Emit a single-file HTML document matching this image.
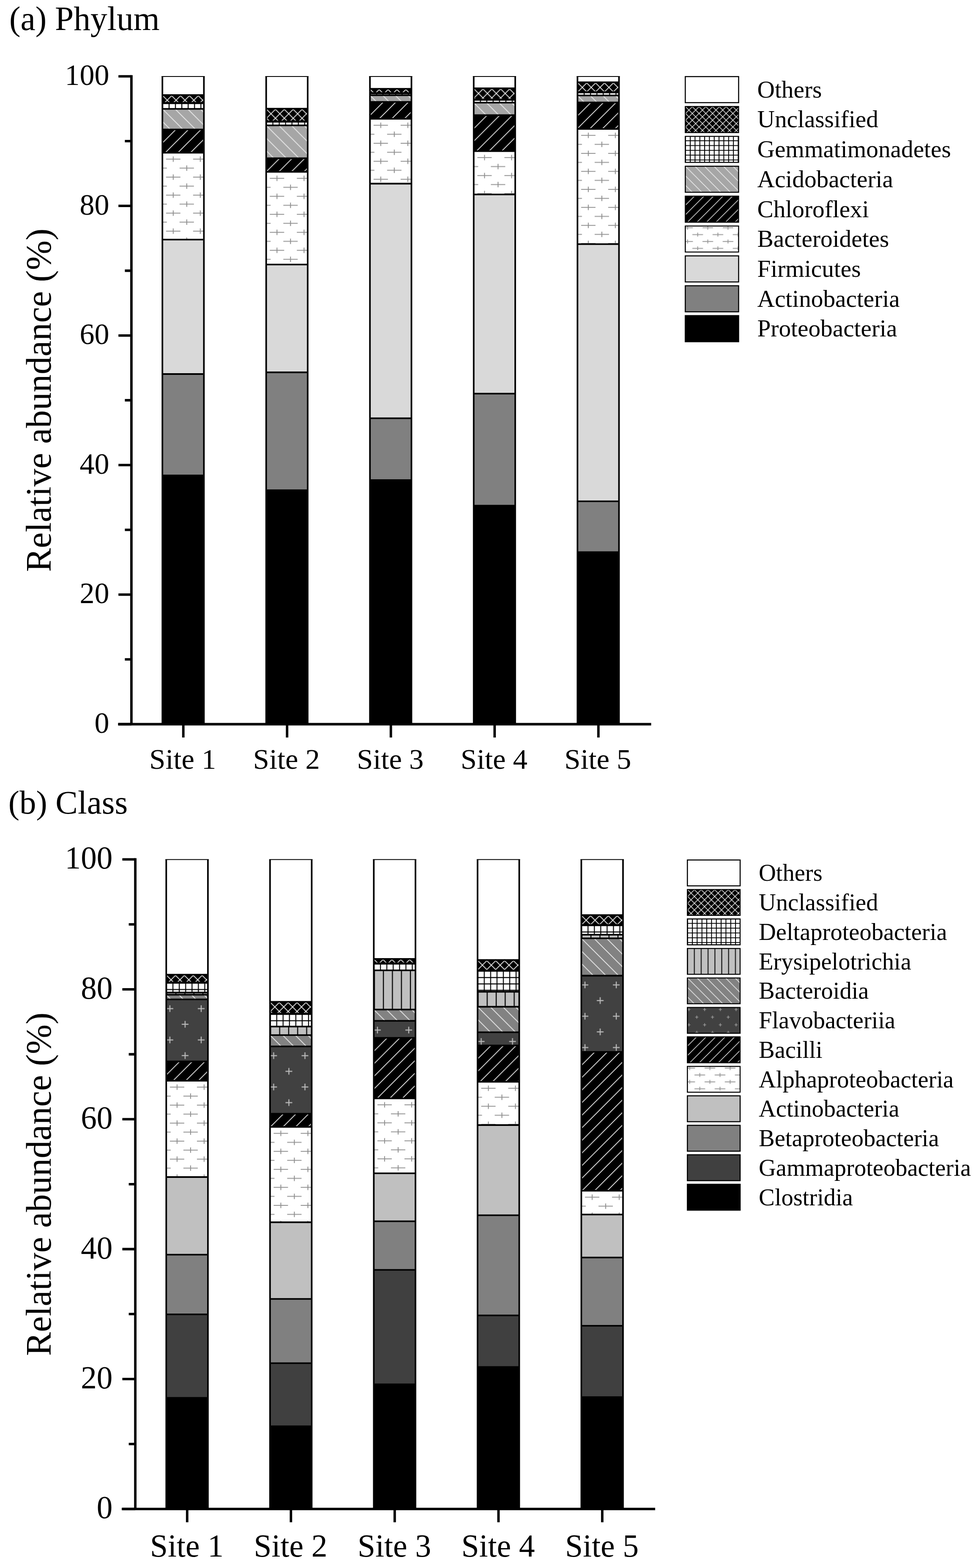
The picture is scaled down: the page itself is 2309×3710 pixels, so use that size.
<!DOCTYPE html>
<html lang="en">
<head>
<meta charset="utf-8">
<title>Relative abundance of bacterial phyla and classes</title>
<style>
html,body{margin:0;padding:0;background:#fff}
body{width:2309px;height:3710px;overflow:hidden}
svg.fig{display:block}
svg.fig text{font-family:"Liberation Serif", "DejaVu Serif", serif;fill:#000}
</style>
</head>
<body>
<svg class="fig" width="2309" height="3710" viewBox="0 0 2309 3710">
<defs>
<pattern id="xh" patternUnits="userSpaceOnUse" x="2.80" y="3.50" width="21.00" height="21.00"><rect width="21.00" height="21.00" fill="#000"/><path d="M-21.00 -21.00L42.00 42.00M42.00 -21.00L-21.00 42.00" stroke="#ececec" stroke-width="1.90" fill="none"/></pattern>
<pattern id="gr" patternUnits="userSpaceOnUse" x="2.70" y="3.60" width="15.05" height="15.05"><rect width="15.05" height="15.05" fill="#fff"/><path d="M-15.05 0H30.10M0 -15.05V30.10M-15.05 15.05H30.10M15.05 -15.05V30.10" stroke="#000" stroke-width="2.30" fill="none"/></pattern>
<pattern id="ac" patternUnits="userSpaceOnUse" x="0.00" y="0.00" width="29.80" height="29.80"><rect width="29.80" height="29.80" fill="#a6a6a6"/><path d="M-29.80 -29.80L59.60 59.60M0 -29.80L59.60 29.80M-29.80 0L29.80 59.60" stroke="#ececec" stroke-width="1.90" fill="none"/></pattern>
<pattern id="bd" patternUnits="userSpaceOnUse" x="0.00" y="0.00" width="29.80" height="29.80"><rect width="29.80" height="29.80" fill="#828282"/><path d="M-29.80 -29.80L59.60 59.60M0 -29.80L59.60 29.80M-29.80 0L29.80 59.60" stroke="#ececec" stroke-width="1.90" fill="none"/></pattern>
<pattern id="ch" patternUnits="userSpaceOnUse" x="6.00" y="0.00" width="29.80" height="29.80"><rect width="29.80" height="29.80" fill="#000"/><path d="M-29.80 29.80L29.80 -29.80M-29.80 59.60L59.60 -29.80M0 59.60L59.60 0" stroke="#ececec" stroke-width="1.90" fill="none"/></pattern>
<pattern id="pl" patternUnits="userSpaceOnUse" x="27.50" y="17.10" width="64.00" height="42.60"><rect width="64.00" height="42.60" fill="#fff"/><path d="M-81.00 -42.60H-47.00M-64.00 -49.00V-36.20M-49.00 -21.30H-15.00M-32.00 -27.70V-14.90M-81.00 0.00H-47.00M-64.00 -6.40V6.40M-49.00 21.30H-15.00M-32.00 14.90V27.70M-81.00 42.60H-47.00M-64.00 36.20V49.00M-49.00 63.90H-15.00M-32.00 57.50V70.30M-17.00 -42.60H17.00M0.00 -49.00V-36.20M15.00 -21.30H49.00M32.00 -27.70V-14.90M-17.00 0.00H17.00M0.00 -6.40V6.40M15.00 21.30H49.00M32.00 14.90V27.70M-17.00 42.60H17.00M0.00 36.20V49.00M15.00 63.90H49.00M32.00 57.50V70.30M47.00 -42.60H81.00M64.00 -49.00V-36.20M79.00 -21.30H113.00M96.00 -27.70V-14.90M47.00 0.00H81.00M64.00 -6.40V6.40M79.00 21.30H113.00M96.00 14.90V27.70M47.00 42.60H81.00M64.00 36.20V49.00M79.00 63.90H113.00M96.00 57.50V70.30" stroke="#909090" stroke-width="2.10" fill="none"/></pattern>
<pattern id="fl" patternUnits="userSpaceOnUse" x="10.50" y="23.80" width="74.07" height="74.07"><rect width="74.07" height="74.07" fill="#414141"/><path d="M-82.07 -74.07H-66.07M-74.07 -82.07V-66.07M-46.03 -37.03H-30.03M-38.03 -45.03V-29.03M-82.07 0.00H-66.07M-74.07 -8.00V8.00M-46.03 37.03H-30.03M-38.03 29.03V45.03M-82.07 74.07H-66.07M-74.07 66.07V82.07M-46.03 111.10H-30.03M-38.03 103.10V119.10M-8.00 -74.07H8.00M0.00 -82.07V-66.07M28.03 -37.03H44.03M36.03 -45.03V-29.03M-8.00 0.00H8.00M0.00 -8.00V8.00M28.03 37.03H44.03M36.03 29.03V45.03M-8.00 74.07H8.00M0.00 66.07V82.07M28.03 111.10H44.03M36.03 103.10V119.10M66.07 -74.07H82.07M74.07 -82.07V-66.07M102.10 -37.03H118.10M110.10 -45.03V-29.03M66.07 0.00H82.07M74.07 -8.00V8.00M102.10 37.03H118.10M110.10 29.03V45.03M66.07 74.07H82.07M74.07 66.07V82.07M102.10 111.10H118.10M110.10 103.10V119.10" stroke="#b9b9b9" stroke-width="2.40" fill="none"/></pattern>
<pattern id="vl" patternUnits="userSpaceOnUse" x="-7.25" y="0.00" width="21.30" height="21.30"><rect width="21.30" height="21.30" fill="#c0c0c0"/><path d="M10.65 -21.30V42.60" stroke="#000" stroke-width="2.40" fill="none"/></pattern>
<pattern id="xhL" patternUnits="userSpaceOnUse" x="2.00" y="1.90" width="16.00" height="16.00"><rect width="16.00" height="16.00" fill="#000"/><path d="M-16.00 -16.00L32.00 32.00M32.00 -16.00L-16.00 32.00" stroke="#f2f2f2" stroke-width="1.50" fill="none"/></pattern>
<pattern id="grL" patternUnits="userSpaceOnUse" x="1.80" y="0.50" width="11.35" height="11.35"><rect width="11.35" height="11.35" fill="#fff"/><path d="M-11.35 0H22.70M0 -11.35V22.70M-11.35 11.35H22.70M11.35 -11.35V22.70" stroke="#000" stroke-width="2.10" fill="none"/></pattern>
<pattern id="acL" patternUnits="userSpaceOnUse" x="0.20" y="0.00" width="22.50" height="22.50"><rect width="22.50" height="22.50" fill="#a6a6a6"/><path d="M-22.50 -22.50L45.00 45.00M0 -22.50L45.00 22.50M-22.50 0L22.50 45.00" stroke="#f4f4f4" stroke-width="1.50" fill="none"/></pattern>
<pattern id="bdL" patternUnits="userSpaceOnUse" x="0.20" y="0.00" width="22.50" height="22.50"><rect width="22.50" height="22.50" fill="#828282"/><path d="M-22.50 -22.50L45.00 45.00M0 -22.50L45.00 22.50M-22.50 0L22.50 45.00" stroke="#f4f4f4" stroke-width="1.50" fill="none"/></pattern>
<pattern id="chL" patternUnits="userSpaceOnUse" x="2.20" y="0.00" width="22.50" height="22.50"><rect width="22.50" height="22.50" fill="#000"/><path d="M-22.50 22.50L22.50 -22.50M-22.50 45.00L45.00 -22.50M0 45.00L45.00 0" stroke="#f4f4f4" stroke-width="1.50" fill="none"/></pattern>
<pattern id="plL" patternUnits="userSpaceOnUse" x="6.90" y="5.50" width="47.80" height="32.60"><rect width="47.80" height="32.60" fill="#fff"/><path d="M-60.40 -32.60H-35.20M-47.80 -37.20V-28.00M-36.50 -16.30H-11.30M-23.90 -20.90V-11.70M-60.40 0.00H-35.20M-47.80 -4.60V4.60M-36.50 16.30H-11.30M-23.90 11.70V20.90M-60.40 32.60H-35.20M-47.80 28.00V37.20M-36.50 48.90H-11.30M-23.90 44.30V53.50M-12.60 -32.60H12.60M0.00 -37.20V-28.00M11.30 -16.30H36.50M23.90 -20.90V-11.70M-12.60 0.00H12.60M0.00 -4.60V4.60M11.30 16.30H36.50M23.90 11.70V20.90M-12.60 32.60H12.60M0.00 28.00V37.20M11.30 48.90H36.50M23.90 44.30V53.50M35.20 -32.60H60.40M47.80 -37.20V-28.00M59.10 -16.30H84.30M71.70 -20.90V-11.70M35.20 0.00H60.40M47.80 -4.60V4.60M59.10 16.30H84.30M71.70 11.70V20.90M35.20 32.60H60.40M47.80 28.00V37.20M59.10 48.90H84.30M71.70 44.30V53.50" stroke="#969696" stroke-width="1.90" fill="none"/></pattern>
<pattern id="flL" patternUnits="userSpaceOnUse" x="5.00" y="6.30" width="37.20" height="36.30"><rect width="37.20" height="36.30" fill="#414141"/><path d="M-40.80 -36.30H-33.60M-37.20 -39.90V-32.70M-22.20 -18.15H-15.00M-18.60 -21.75V-14.55M-40.80 0.00H-33.60M-37.20 -3.60V3.60M-22.20 18.15H-15.00M-18.60 14.55V21.75M-40.80 36.30H-33.60M-37.20 32.70V39.90M-22.20 54.45H-15.00M-18.60 50.85V58.05M-3.60 -36.30H3.60M0.00 -39.90V-32.70M15.00 -18.15H22.20M18.60 -21.75V-14.55M-3.60 0.00H3.60M0.00 -3.60V3.60M15.00 18.15H22.20M18.60 14.55V21.75M-3.60 36.30H3.60M0.00 32.70V39.90M15.00 54.45H22.20M18.60 50.85V58.05M33.60 -36.30H40.80M37.20 -39.90V-32.70M52.20 -18.15H59.40M55.80 -21.75V-14.55M33.60 0.00H40.80M37.20 -3.60V3.60M52.20 18.15H59.40M55.80 14.55V21.75M33.60 36.30H40.80M37.20 32.70V39.90M52.20 54.45H59.40M55.80 50.85V58.05" stroke="#9a9a9a" stroke-width="1.70" fill="none"/></pattern>
<pattern id="vlL" patternUnits="userSpaceOnUse" x="9.80" y="0.00" width="16.20" height="16.20"><rect width="16.20" height="16.20" fill="#c0c0c0"/><path d="M8.10 -16.20V32.40" stroke="#000" stroke-width="2.00" fill="none"/></pattern>
</defs>
<g>
<rect width="2309" height="3710" fill="#fff"/>
<g>
<text x="22.0" y="71.0" font-size="79.5">(a) Phylum</text>
<rect x="384.2" y="1124.8" width="98.2" height="588.7" fill="#000"/>
<rect x="384.2" y="885.0" width="98.2" height="239.8" fill="#808080"/>
<rect x="384.2" y="566.9" width="98.2" height="318.1" fill="#d9d9d9"/>
<svg x="382.3" y="359.4" width="102.0" height="209.4"><rect x="1.9" y="1.9" width="98.2" height="205.6" fill="url(#pl)"/></svg>
<svg x="382.3" y="304.4" width="102.0" height="58.8"><rect x="1.9" y="1.9" width="98.2" height="55.0" fill="url(#ch)"/></svg>
<svg x="382.3" y="255.7" width="102.0" height="52.5"><rect x="1.9" y="1.9" width="98.2" height="48.7" fill="url(#ac)"/></svg>
<svg x="382.3" y="241.4" width="102.0" height="18.1"><rect x="1.9" y="1.9" width="98.2" height="14.3" fill="url(#gr)"/></svg>
<svg x="382.3" y="223.0" width="102.0" height="22.2"><rect x="1.9" y="1.9" width="98.2" height="18.4" fill="url(#xh)"/></svg>
<rect x="384.2" y="181.0" width="98.2" height="43.9" fill="#fff"/>
<path d="M382.3 181.0H484.3" stroke="#000" stroke-width="2.0" fill="none"/>
<rect x="629.7" y="1159.8" width="98.2" height="553.7" fill="#000"/>
<rect x="629.7" y="881.0" width="98.2" height="278.8" fill="#808080"/>
<rect x="629.7" y="625.9" width="98.2" height="255.1" fill="#d9d9d9"/>
<svg x="627.8" y="404.8" width="102.0" height="223.0"><rect x="1.9" y="1.9" width="98.2" height="219.2" fill="url(#pl)"/></svg>
<svg x="627.8" y="372.6" width="102.0" height="36.0"><rect x="1.9" y="1.9" width="98.2" height="32.2" fill="url(#ch)"/></svg>
<svg x="627.8" y="294.8" width="102.0" height="81.6"><rect x="1.9" y="1.9" width="98.2" height="77.8" fill="url(#ac)"/></svg>
<svg x="627.8" y="285.2" width="102.0" height="13.4"><rect x="1.9" y="1.9" width="98.2" height="9.6" fill="url(#gr)"/></svg>
<svg x="627.8" y="255.2" width="102.0" height="33.8"><rect x="1.9" y="1.9" width="98.2" height="30.0" fill="url(#xh)"/></svg>
<rect x="629.7" y="181.0" width="98.2" height="76.1" fill="#fff"/>
<path d="M627.8 181.0H729.8" stroke="#000" stroke-width="2.0" fill="none"/>
<rect x="875.2" y="1135.9" width="98.2" height="577.6" fill="#000"/>
<rect x="875.2" y="989.7" width="98.2" height="146.2" fill="#808080"/>
<rect x="875.2" y="434.5" width="98.2" height="555.2" fill="#d9d9d9"/>
<svg x="873.3" y="279.3" width="102.0" height="157.1"><rect x="1.9" y="1.9" width="98.2" height="153.3" fill="url(#pl)"/></svg>
<svg x="873.3" y="239.2" width="102.0" height="43.9"><rect x="1.9" y="1.9" width="98.2" height="40.1" fill="url(#ch)"/></svg>
<svg x="873.3" y="223.4" width="102.0" height="19.6"><rect x="1.9" y="1.9" width="98.2" height="15.8" fill="url(#ac)"/></svg>
<svg x="873.3" y="218.2" width="102.0" height="9.0"><rect x="1.9" y="1.9" width="98.2" height="5.2" fill="url(#gr)"/></svg>
<svg x="873.3" y="208.3" width="102.0" height="13.7"><rect x="1.9" y="1.9" width="98.2" height="9.9" fill="url(#xh)"/></svg>
<rect x="875.2" y="181.0" width="98.2" height="29.2" fill="#fff"/>
<path d="M873.3 181.0H975.3" stroke="#000" stroke-width="2.0" fill="none"/>
<rect x="1120.7" y="1196.3" width="98.2" height="517.2" fill="#000"/>
<rect x="1120.7" y="931.3" width="98.2" height="265.0" fill="#808080"/>
<rect x="1120.7" y="460.1" width="98.2" height="471.2" fill="#d9d9d9"/>
<svg x="1118.8" y="355.7" width="102.0" height="106.3"><rect x="1.9" y="1.9" width="98.2" height="102.5" fill="url(#pl)"/></svg>
<svg x="1118.8" y="270.6" width="102.0" height="88.9"><rect x="1.9" y="1.9" width="98.2" height="85.1" fill="url(#ch)"/></svg>
<svg x="1118.8" y="240.9" width="102.0" height="33.5"><rect x="1.9" y="1.9" width="98.2" height="29.7" fill="url(#ac)"/></svg>
<svg x="1118.8" y="233.4" width="102.0" height="11.3"><rect x="1.9" y="1.9" width="98.2" height="7.5" fill="url(#gr)"/></svg>
<svg x="1118.8" y="207.1" width="102.0" height="30.1"><rect x="1.9" y="1.9" width="98.2" height="26.3" fill="url(#xh)"/></svg>
<rect x="1120.7" y="181.0" width="98.2" height="28.0" fill="#fff"/>
<path d="M1118.8 181.0H1220.8" stroke="#000" stroke-width="2.0" fill="none"/>
<rect x="1366.2" y="1306.3" width="98.2" height="407.2" fill="#000"/>
<rect x="1366.2" y="1186.2" width="98.2" height="120.1" fill="#808080"/>
<rect x="1366.2" y="577.7" width="98.2" height="608.5" fill="#d9d9d9"/>
<svg x="1364.3" y="303.2" width="102.0" height="276.4"><rect x="1.9" y="1.9" width="98.2" height="272.6" fill="url(#pl)"/></svg>
<svg x="1364.3" y="240.4" width="102.0" height="66.6"><rect x="1.9" y="1.9" width="98.2" height="62.8" fill="url(#ch)"/></svg>
<svg x="1364.3" y="223.9" width="102.0" height="20.3"><rect x="1.9" y="1.9" width="98.2" height="16.5" fill="url(#ac)"/></svg>
<svg x="1364.3" y="215.9" width="102.0" height="11.8"><rect x="1.9" y="1.9" width="98.2" height="8.0" fill="url(#gr)"/></svg>
<svg x="1364.3" y="192.8" width="102.0" height="27.0"><rect x="1.9" y="1.9" width="98.2" height="23.2" fill="url(#xh)"/></svg>
<rect x="1366.2" y="181.0" width="98.2" height="13.7" fill="#fff"/>
<path d="M1364.3 181.0H1466.3" stroke="#000" stroke-width="2.0" fill="none"/>
<path d="M382.3 1124.8H484.3M382.3 885.0H484.3M382.3 566.9H484.3M382.3 361.3H484.3M382.3 306.3H484.3M382.3 257.6H484.3M382.3 243.3H484.3M382.3 224.9H484.3M384.2 180.4V1713.5M482.4 180.4V1713.5M627.8 1159.8H729.8M627.8 881.0H729.8M627.8 625.9H729.8M627.8 406.7H729.8M627.8 374.5H729.8M627.8 296.7H729.8M627.8 287.1H729.8M627.8 257.1H729.8M629.7 180.4V1713.5M727.9 180.4V1713.5M873.3 1135.9H975.3M873.3 989.7H975.3M873.3 434.5H975.3M873.3 281.2H975.3M873.3 241.1H975.3M873.3 225.3H975.3M873.3 220.1H975.3M873.3 210.2H975.3M875.2 180.4V1713.5M973.4 180.4V1713.5M1118.8 1196.3H1220.8M1118.8 931.3H1220.8M1118.8 460.1H1220.8M1118.8 357.6H1220.8M1118.8 272.5H1220.8M1118.8 242.8H1220.8M1118.8 235.3H1220.8M1118.8 209.0H1220.8M1120.7 180.4V1713.5M1218.9 180.4V1713.5M1364.3 1306.3H1466.3M1364.3 1186.2H1466.3M1364.3 577.7H1466.3M1364.3 305.1H1466.3M1364.3 242.3H1466.3M1364.3 225.8H1466.3M1364.3 217.8H1466.3M1364.3 194.7H1466.3M1366.2 180.4V1713.5M1464.4 180.4V1713.5" stroke="#000" stroke-width="3.8" fill="none"/>
<path d="M310.9 177.7V1716.4M279.3 1713.5H1540.5" stroke="#000" stroke-width="5.8" fill="none"/>
<path d="M280.2 1713.5H310.9M295.4 1560.2H310.9M280.2 1406.9H310.9M295.4 1253.6H310.9M280.2 1100.3H310.9M295.4 947.0H310.9M280.2 793.8H310.9M295.4 640.5H310.9M280.2 487.2H310.9M295.4 333.9H310.9M280.2 180.6H310.9M433.7 1713.5V1745.0M679.2 1713.5V1745.0M924.7 1713.5V1745.0M1170.2 1713.5V1745.0M1415.7 1713.5V1745.0" stroke="#000" stroke-width="5.8" fill="none"/>
<text x="258.4" y="1734.0" font-size="70.0" text-anchor="end">0</text>
<text x="258.4" y="1427.4" font-size="70.0" text-anchor="end">20</text>
<text x="258.4" y="1120.8" font-size="70.0" text-anchor="end">40</text>
<text x="258.4" y="814.3" font-size="70.0" text-anchor="end">60</text>
<text x="258.4" y="507.7" font-size="70.0" text-anchor="end">80</text>
<text x="258.4" y="201.1" font-size="70.0" text-anchor="end">100</text>
<text x="432.3" y="1819.0" font-size="68.5" text-anchor="middle">Site 1</text>
<text x="677.8" y="1819.0" font-size="68.5" text-anchor="middle">Site 2</text>
<text x="923.3" y="1819.0" font-size="68.5" text-anchor="middle">Site 3</text>
<text x="1168.8" y="1819.0" font-size="68.5" text-anchor="middle">Site 4</text>
<text x="1414.3" y="1819.0" font-size="68.5" text-anchor="middle">Site 5</text>
<text transform="translate(119.5 947.0) rotate(-90)" font-size="84.6" text-anchor="middle">Relative abundance (%)</text>
<rect x="1621.2" y="181.2" width="126.2" height="61.7" fill="#fff" stroke="#000" stroke-width="2.5"/>
<text x="1791.5" y="230.7" font-size="57.3">Others</text>
<svg x="1619.8" y="250.5" width="129.0" height="64.5"><rect x="1.4" y="1.4" width="126.2" height="61.7" fill="url(#xhL)" stroke="#000" stroke-width="2.5"/></svg>
<text x="1791.5" y="301.4" font-size="57.3">Unclassified</text>
<svg x="1619.8" y="321.2" width="129.0" height="64.5"><rect x="1.4" y="1.4" width="126.2" height="61.7" fill="url(#grL)" stroke="#000" stroke-width="2.5"/></svg>
<text x="1791.5" y="372.1" font-size="57.3">Gemmatimonadetes</text>
<svg x="1619.8" y="391.9" width="129.0" height="64.5"><rect x="1.4" y="1.4" width="126.2" height="61.7" fill="url(#acL)" stroke="#000" stroke-width="2.5"/></svg>
<text x="1791.5" y="442.8" font-size="57.3">Acidobacteria</text>
<svg x="1619.8" y="462.6" width="129.0" height="64.5"><rect x="1.4" y="1.4" width="126.2" height="61.7" fill="url(#chL)" stroke="#000" stroke-width="2.5"/></svg>
<text x="1791.5" y="513.5" font-size="57.3">Chloroflexi</text>
<svg x="1619.8" y="533.3" width="129.0" height="64.5"><rect x="1.4" y="1.4" width="126.2" height="61.7" fill="url(#plL)" stroke="#000" stroke-width="2.5"/></svg>
<text x="1791.5" y="584.2" font-size="57.3">Bacteroidetes</text>
<rect x="1621.2" y="605.4" width="126.2" height="61.7" fill="#d9d9d9" stroke="#000" stroke-width="2.5"/>
<text x="1791.5" y="654.9" font-size="57.3">Firmicutes</text>
<rect x="1621.2" y="676.1" width="126.2" height="61.7" fill="#808080" stroke="#000" stroke-width="2.5"/>
<text x="1791.5" y="725.6" font-size="57.3">Actinobacteria</text>
<rect x="1621.2" y="746.8" width="126.2" height="61.7" fill="#000" stroke="#000" stroke-width="2.5"/>
<text x="1791.5" y="796.3" font-size="57.3">Proteobacteria</text>
</g>
<g>
<text x="19.8" y="1924.5" font-size="78.8">(b) Class</text>
<rect x="393.3" y="3307.3" width="98.6" height="263.0" fill="#000"/>
<rect x="393.3" y="3109.8" width="98.6" height="197.5" fill="#404040"/>
<rect x="393.3" y="2968.6" width="98.6" height="141.2" fill="#808080"/>
<rect x="393.3" y="2785.0" width="98.6" height="183.6" fill="#c0c0c0"/>
<svg x="391.4" y="2555.1" width="102.4" height="231.8"><rect x="1.9" y="1.9" width="98.6" height="228.0" fill="url(#pl)"/></svg>
<svg x="391.4" y="2509.6" width="102.4" height="49.3"><rect x="1.9" y="1.9" width="98.6" height="45.5" fill="url(#ch)"/></svg>
<svg x="391.4" y="2362.7" width="102.4" height="150.7"><rect x="1.9" y="1.9" width="98.6" height="146.9" fill="url(#fl)"/></svg>
<svg x="391.4" y="2351.8" width="102.4" height="14.7"><rect x="1.9" y="1.9" width="98.6" height="10.9" fill="url(#bd)"/></svg>
<svg x="391.4" y="2346.6" width="102.4" height="9.0"><rect x="1.9" y="1.9" width="98.6" height="5.2" fill="url(#vl)"/></svg>
<svg x="391.4" y="2322.7" width="102.4" height="27.7"><rect x="1.9" y="1.9" width="98.6" height="23.9" fill="url(#gr)"/></svg>
<svg x="391.4" y="2304.3" width="102.4" height="22.2"><rect x="1.9" y="1.9" width="98.6" height="18.4" fill="url(#xh)"/></svg>
<rect x="393.3" y="2033.7" width="98.6" height="272.5" fill="#fff"/>
<path d="M391.4 2033.7H493.8" stroke="#000" stroke-width="2.0" fill="none"/>
<rect x="638.8" y="3374.6" width="98.6" height="195.7" fill="#000"/>
<rect x="638.8" y="3225.3" width="98.6" height="149.3" fill="#404040"/>
<rect x="638.8" y="3073.3" width="98.6" height="152.0" fill="#808080"/>
<rect x="638.8" y="2892.0" width="98.6" height="181.3" fill="#c0c0c0"/>
<svg x="636.9" y="2664.5" width="102.4" height="229.4"><rect x="1.9" y="1.9" width="98.6" height="225.6" fill="url(#pl)"/></svg>
<svg x="636.9" y="2633.3" width="102.4" height="35.0"><rect x="1.9" y="1.9" width="98.6" height="31.2" fill="url(#ch)"/></svg>
<svg x="636.9" y="2474.0" width="102.4" height="163.1"><rect x="1.9" y="1.9" width="98.6" height="159.3" fill="url(#fl)"/></svg>
<svg x="636.9" y="2447.3" width="102.4" height="30.5"><rect x="1.9" y="1.9" width="98.6" height="26.7" fill="url(#bd)"/></svg>
<svg x="636.9" y="2426.9" width="102.4" height="24.2"><rect x="1.9" y="1.9" width="98.6" height="20.4" fill="url(#vl)"/></svg>
<svg x="636.9" y="2396.5" width="102.4" height="34.2"><rect x="1.9" y="1.9" width="98.6" height="30.4" fill="url(#gr)"/></svg>
<svg x="636.9" y="2368.5" width="102.4" height="31.8"><rect x="1.9" y="1.9" width="98.6" height="28.0" fill="url(#xh)"/></svg>
<rect x="638.8" y="2033.7" width="98.6" height="336.7" fill="#fff"/>
<path d="M636.9 2033.7H739.3" stroke="#000" stroke-width="2.0" fill="none"/>
<rect x="884.3" y="3275.5" width="98.6" height="294.8" fill="#000"/>
<rect x="884.3" y="3004.6" width="98.6" height="270.9" fill="#404040"/>
<rect x="884.3" y="2889.7" width="98.6" height="114.9" fill="#808080"/>
<rect x="884.3" y="2776.1" width="98.6" height="113.6" fill="#c0c0c0"/>
<svg x="882.4" y="2597.0" width="102.4" height="181.0"><rect x="1.9" y="1.9" width="98.6" height="177.2" fill="url(#pl)"/></svg>
<svg x="882.4" y="2453.7" width="102.4" height="147.1"><rect x="1.9" y="1.9" width="98.6" height="143.3" fill="url(#ch)"/></svg>
<svg x="882.4" y="2413.4" width="102.4" height="44.0"><rect x="1.9" y="1.9" width="98.6" height="40.2" fill="url(#fl)"/></svg>
<svg x="882.4" y="2386.7" width="102.4" height="30.6"><rect x="1.9" y="1.9" width="98.6" height="26.8" fill="url(#bd)"/></svg>
<svg x="882.4" y="2293.9" width="102.4" height="96.6"><rect x="1.9" y="1.9" width="98.6" height="92.8" fill="url(#vl)"/></svg>
<svg x="882.4" y="2277.4" width="102.4" height="20.3"><rect x="1.9" y="1.9" width="98.6" height="16.5" fill="url(#gr)"/></svg>
<svg x="882.4" y="2266.9" width="102.4" height="14.3"><rect x="1.9" y="1.9" width="98.6" height="10.5" fill="url(#xh)"/></svg>
<rect x="884.3" y="2033.7" width="98.6" height="235.1" fill="#fff"/>
<path d="M882.4 2033.7H984.8" stroke="#000" stroke-width="2.0" fill="none"/>
<rect x="1129.8" y="3234.3" width="98.6" height="336.0" fill="#000"/>
<rect x="1129.8" y="3112.4" width="98.6" height="121.9" fill="#404040"/>
<rect x="1129.8" y="2875.4" width="98.6" height="237.0" fill="#808080"/>
<rect x="1129.8" y="2662.0" width="98.6" height="213.4" fill="#c0c0c0"/>
<svg x="1127.9" y="2557.8" width="102.4" height="106.1"><rect x="1.9" y="1.9" width="98.6" height="102.3" fill="url(#pl)"/></svg>
<svg x="1127.9" y="2471.7" width="102.4" height="89.9"><rect x="1.9" y="1.9" width="98.6" height="86.1" fill="url(#ch)"/></svg>
<svg x="1127.9" y="2440.4" width="102.4" height="35.1"><rect x="1.9" y="1.9" width="98.6" height="31.3" fill="url(#fl)"/></svg>
<svg x="1127.9" y="2380.1" width="102.4" height="64.1"><rect x="1.9" y="1.9" width="98.6" height="60.3" fill="url(#bd)"/></svg>
<svg x="1127.9" y="2344.6" width="102.4" height="39.3"><rect x="1.9" y="1.9" width="98.6" height="35.5" fill="url(#vl)"/></svg>
<svg x="1127.9" y="2294.3" width="102.4" height="54.1"><rect x="1.9" y="1.9" width="98.6" height="50.3" fill="url(#gr)"/></svg>
<svg x="1127.9" y="2269.6" width="102.4" height="28.5"><rect x="1.9" y="1.9" width="98.6" height="24.7" fill="url(#xh)"/></svg>
<rect x="1129.8" y="2033.7" width="98.6" height="237.8" fill="#fff"/>
<path d="M1127.9 2033.7H1230.3" stroke="#000" stroke-width="2.0" fill="none"/>
<rect x="1375.3" y="3305.7" width="98.6" height="264.6" fill="#000"/>
<rect x="1375.3" y="3136.8" width="98.6" height="168.9" fill="#404040"/>
<rect x="1375.3" y="2975.4" width="98.6" height="161.4" fill="#808080"/>
<rect x="1375.3" y="2873.6" width="98.6" height="101.8" fill="#c0c0c0"/>
<svg x="1373.4" y="2815.5" width="102.4" height="60.0"><rect x="1.9" y="1.9" width="98.6" height="56.2" fill="url(#pl)"/></svg>
<svg x="1373.4" y="2487.0" width="102.4" height="332.3"><rect x="1.9" y="1.9" width="98.6" height="328.5" fill="url(#ch)"/></svg>
<svg x="1373.4" y="2306.6" width="102.4" height="184.2"><rect x="1.9" y="1.9" width="98.6" height="180.4" fill="url(#fl)"/></svg>
<svg x="1373.4" y="2218.2" width="102.4" height="92.2"><rect x="1.9" y="1.9" width="98.6" height="88.4" fill="url(#bd)"/></svg>
<svg x="1373.4" y="2209.8" width="102.4" height="12.2"><rect x="1.9" y="1.9" width="98.6" height="8.4" fill="url(#vl)"/></svg>
<svg x="1373.4" y="2186.5" width="102.4" height="27.1"><rect x="1.9" y="1.9" width="98.6" height="23.3" fill="url(#gr)"/></svg>
<svg x="1373.4" y="2163.3" width="102.4" height="27.0"><rect x="1.9" y="1.9" width="98.6" height="23.2" fill="url(#xh)"/></svg>
<rect x="1375.3" y="2033.7" width="98.6" height="131.5" fill="#fff"/>
<path d="M1373.4 2033.7H1475.8" stroke="#000" stroke-width="2.0" fill="none"/>
<path d="M391.4 3307.3H493.8M391.4 3109.8H493.8M391.4 2968.6H493.8M391.4 2785.0H493.8M391.4 2557.0H493.8M391.4 2511.5H493.8M391.4 2364.6H493.8M391.4 2353.7H493.8M391.4 2348.5H493.8M391.4 2324.6H493.8M391.4 2306.2H493.8M393.3 2033.1V3570.3M491.9 2033.1V3570.3M636.9 3374.6H739.3M636.9 3225.3H739.3M636.9 3073.3H739.3M636.9 2892.0H739.3M636.9 2666.4H739.3M636.9 2635.2H739.3M636.9 2475.9H739.3M636.9 2449.2H739.3M636.9 2428.8H739.3M636.9 2398.4H739.3M636.9 2370.4H739.3M638.8 2033.1V3570.3M737.4 2033.1V3570.3M882.4 3275.5H984.8M882.4 3004.6H984.8M882.4 2889.7H984.8M882.4 2776.1H984.8M882.4 2598.9H984.8M882.4 2455.6H984.8M882.4 2415.3H984.8M882.4 2388.6H984.8M882.4 2295.8H984.8M882.4 2279.3H984.8M882.4 2268.8H984.8M884.3 2033.1V3570.3M982.9 2033.1V3570.3M1127.9 3234.3H1230.3M1127.9 3112.4H1230.3M1127.9 2875.4H1230.3M1127.9 2662.0H1230.3M1127.9 2559.7H1230.3M1127.9 2473.6H1230.3M1127.9 2442.3H1230.3M1127.9 2382.0H1230.3M1127.9 2346.5H1230.3M1127.9 2296.2H1230.3M1127.9 2271.5H1230.3M1129.8 2033.1V3570.3M1228.4 2033.1V3570.3M1373.4 3305.7H1475.8M1373.4 3136.8H1475.8M1373.4 2975.4H1475.8M1373.4 2873.6H1475.8M1373.4 2817.4H1475.8M1373.4 2488.9H1475.8M1373.4 2308.5H1475.8M1373.4 2220.1H1475.8M1373.4 2211.7H1475.8M1373.4 2188.4H1475.8M1373.4 2165.2H1475.8M1375.3 2033.1V3570.3M1473.9 2033.1V3570.3" stroke="#000" stroke-width="3.8" fill="none"/>
<path d="M320.1 2030.5V3573.2M288.0 3570.3H1550.0" stroke="#000" stroke-width="5.8" fill="none"/>
<path d="M289.4 3570.3H320.1M304.6 3416.6H320.1M289.4 3262.9H320.1M304.6 3109.2H320.1M289.4 2955.5H320.1M304.6 2801.9H320.1M289.4 2648.2H320.1M304.6 2494.5H320.1M289.4 2340.8H320.1M304.6 2187.1H320.1M289.4 2033.4H320.1M442.8 3570.3V3601.8M688.3 3570.3V3601.8M933.8 3570.3V3601.8M1179.3 3570.3V3601.8M1424.8 3570.3V3601.8" stroke="#000" stroke-width="5.8" fill="none"/>
<text x="266.4" y="3592.3" font-size="75.2" text-anchor="end">0</text>
<text x="266.4" y="3285.0" font-size="75.2" text-anchor="end">20</text>
<text x="266.4" y="2977.6" font-size="75.2" text-anchor="end">40</text>
<text x="266.4" y="2670.2" font-size="75.2" text-anchor="end">60</text>
<text x="266.4" y="2362.8" font-size="75.2" text-anchor="end">80</text>
<text x="266.4" y="2055.4" font-size="75.2" text-anchor="end">100</text>
<text x="442.0" y="3683.0" font-size="75.4" text-anchor="middle">Site 1</text>
<text x="687.5" y="3683.0" font-size="75.4" text-anchor="middle">Site 2</text>
<text x="933.0" y="3683.0" font-size="75.4" text-anchor="middle">Site 3</text>
<text x="1178.5" y="3683.0" font-size="75.4" text-anchor="middle">Site 4</text>
<text x="1424.0" y="3683.0" font-size="75.4" text-anchor="middle">Site 5</text>
<text transform="translate(119.5 2801.9) rotate(-90)" font-size="84.6" text-anchor="middle">Relative abundance (%)</text>
<rect x="1626.2" y="2034.8" width="124.8" height="61.2" fill="#fff" stroke="#000" stroke-width="2.5"/>
<text x="1795.0" y="2084.3" font-size="56.5">Others</text>
<svg x="1624.8" y="2103.2" width="127.6" height="64.0"><rect x="1.4" y="1.4" width="124.8" height="61.2" fill="url(#xhL)" stroke="#000" stroke-width="2.5"/></svg>
<text x="1795.0" y="2154.1" font-size="56.5">Unclassified</text>
<svg x="1624.8" y="2172.9" width="127.6" height="64.0"><rect x="1.4" y="1.4" width="124.8" height="61.2" fill="url(#grL)" stroke="#000" stroke-width="2.5"/></svg>
<text x="1795.0" y="2223.8" font-size="56.5">Deltaproteobacteria</text>
<svg x="1624.8" y="2242.7" width="127.6" height="64.0"><rect x="1.4" y="1.4" width="124.8" height="61.2" fill="url(#vlL)" stroke="#000" stroke-width="2.5"/></svg>
<text x="1795.0" y="2293.6" font-size="56.5">Erysipelotrichia</text>
<svg x="1624.8" y="2312.4" width="127.6" height="64.0"><rect x="1.4" y="1.4" width="124.8" height="61.2" fill="url(#bdL)" stroke="#000" stroke-width="2.5"/></svg>
<text x="1795.0" y="2363.3" font-size="56.5">Bacteroidia</text>
<svg x="1624.8" y="2382.2" width="127.6" height="64.0"><rect x="1.4" y="1.4" width="124.8" height="61.2" fill="url(#flL)" stroke="#000" stroke-width="2.5"/></svg>
<text x="1795.0" y="2433.1" font-size="56.5">Flavobacteriia</text>
<svg x="1624.8" y="2451.9" width="127.6" height="64.0"><rect x="1.4" y="1.4" width="124.8" height="61.2" fill="url(#chL)" stroke="#000" stroke-width="2.5"/></svg>
<text x="1795.0" y="2502.8" font-size="56.5">Bacilli</text>
<svg x="1624.8" y="2521.7" width="127.6" height="64.0"><rect x="1.4" y="1.4" width="124.8" height="61.2" fill="url(#plL)" stroke="#000" stroke-width="2.5"/></svg>
<text x="1795.0" y="2572.6" font-size="56.5">Alphaproteobacteria</text>
<rect x="1626.2" y="2592.8" width="124.8" height="61.2" fill="#c0c0c0" stroke="#000" stroke-width="2.5"/>
<text x="1795.0" y="2642.3" font-size="56.5">Actinobacteria</text>
<rect x="1626.2" y="2662.6" width="124.8" height="61.2" fill="#808080" stroke="#000" stroke-width="2.5"/>
<text x="1795.0" y="2712.1" font-size="56.5">Betaproteobacteria</text>
<rect x="1626.2" y="2732.3" width="124.8" height="61.2" fill="#404040" stroke="#000" stroke-width="2.5"/>
<text x="1795.0" y="2781.8" font-size="56.5">Gammaproteobacteria</text>
<rect x="1626.2" y="2802.1" width="124.8" height="61.2" fill="#000" stroke="#000" stroke-width="2.5"/>
<text x="1795.0" y="2851.6" font-size="56.5">Clostridia</text>
</g>
</g>
</svg>
</body>
</html>
